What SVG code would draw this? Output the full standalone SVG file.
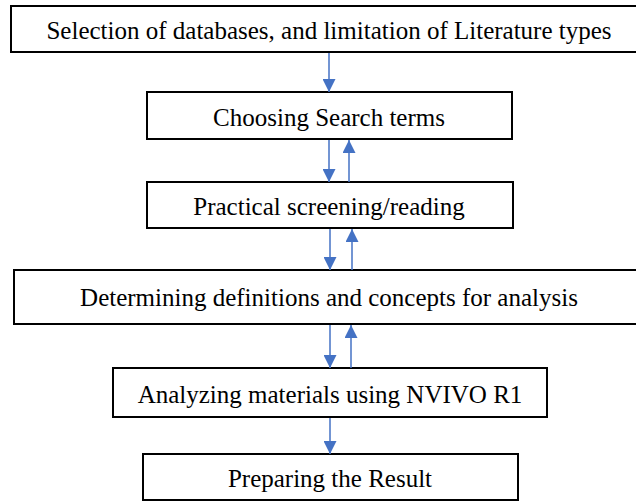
<svg xmlns="http://www.w3.org/2000/svg" width="636" height="502" viewBox="0 0 636 502">
<style>
.box{fill:#fff;stroke:#000;stroke-width:2}
.lbl{font-family:"Liberation Serif","Times New Roman",serif;font-size:25px;fill:#000;text-anchor:middle}
.conn{stroke:#4472C4;stroke-width:1.5;fill:none;marker-end:url(#ah)}
</style>
<defs>
<marker id="ah" markerUnits="userSpaceOnUse" markerWidth="13" markerHeight="13" refX="13" refY="6.5" orient="auto" viewBox="0 0 13 13">
<path d="M0,0 L13,6.5 L0,13 z" fill="#4472C4"/>
</marker>
</defs>
<rect width="636" height="502" fill="#fff"/>
<g id="n1"><rect class="box" x="11" y="6" width="630" height="46"/><text class="lbl" x="329" y="39">Selection of databases, and limitation of Literature types</text></g>
<g id="n2"><rect class="box" x="147" y="92" width="365" height="47"/><text class="lbl" x="329" y="126">Choosing Search terms</text></g>
<g id="n3"><rect class="box" x="147" y="182" width="366" height="46"/><text class="lbl" x="329" y="215">Practical screening/reading</text></g>
<g id="n4"><rect class="box" x="14" y="270" width="630" height="54"/><text class="lbl" x="329" y="306">Determining definitions and concepts for analysis</text></g>
<g id="n5"><rect class="box" x="113" y="368" width="434" height="49"/><text class="lbl" x="330" y="403">Analyzing materials using NVIVO R1</text></g>
<g id="n6"><rect class="box" x="143" y="454" width="375" height="46"/><text class="lbl" x="330" y="487">Preparing the Result</text></g>
<g id="connectors">
<line class="conn" x1="329" y1="53" x2="329" y2="92"/>
<line class="conn" x1="329" y1="140" x2="329" y2="182"/>
<line class="conn" x1="349" y1="182" x2="349" y2="140"/>
<line class="conn" x1="330" y1="229" x2="330" y2="270"/>
<line class="conn" x1="352" y1="270" x2="352" y2="229"/>
<line class="conn" x1="330" y1="325" x2="330" y2="368"/>
<line class="conn" x1="351" y1="368" x2="351" y2="325"/>
<line class="conn" x1="330" y1="418" x2="330" y2="454"/>
</g>
</svg>
